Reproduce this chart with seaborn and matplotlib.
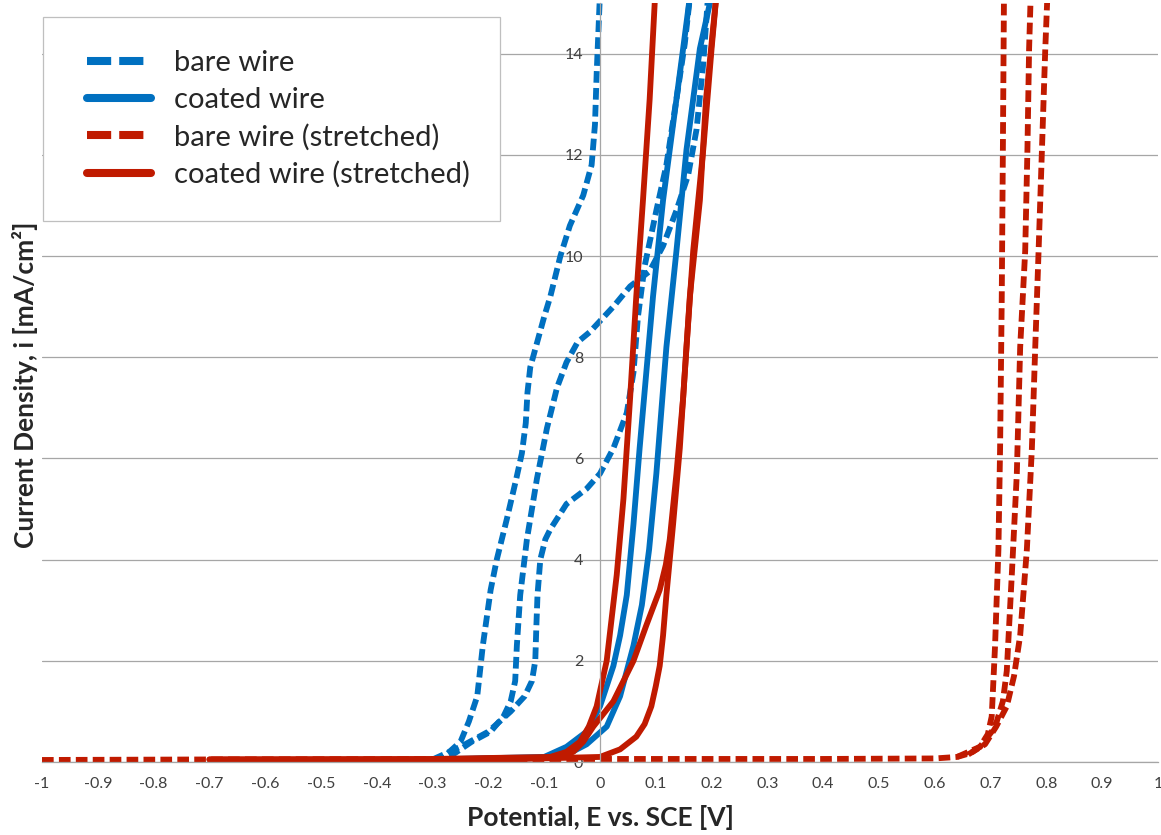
import numpy as np
import pandas as pd
import matplotlib
matplotlib.use("Agg")
import matplotlib.pyplot as plt
from matplotlib.patches import Rectangle
import seaborn as sns

# potential E [V] vs current density i [mA/cm2]
# bare wire (blue dashed), three sweeps
bare_x1 = [-0.30, -0.28, -0.25, -0.235, -0.22, -0.21, -0.196, -0.185, -0.167, -0.15, -0.14, -0.133, -0.13, -0.125, -0.115, -0.1, -0.089, -0.071, -0.054, -0.03, -0.015, -0.009, -0.006, 0.0]
bare_y1 = [0.05, 0.1, 0.4, 0.8, 1.3, 2.3, 3.4, 4.0, 4.8, 5.6, 6.1, 6.7, 7.3, 7.8, 8.2, 8.8, 9.2, 10.0, 10.6, 11.2, 11.8, 12.6, 13.6, 15.2]
bare_x2 = [-0.30, -0.27, -0.23, -0.196, -0.173, -0.16, -0.152, -0.149, -0.143, -0.131, -0.113, -0.095, -0.077, -0.06, -0.04, -0.018, 0.024, 0.054, 0.089, 0.113, 0.137, 0.158, 0.173, 0.185, 0.194]
bare_y2 = [0.05, 0.1, 0.4, 0.6, 0.9, 1.2, 1.6, 2.3, 3.3, 4.4, 5.6, 6.6, 7.4, 7.9, 8.3, 8.5, 9.0, 9.4, 9.7, 10.2, 10.9, 11.6, 12.5, 13.8, 15.2]
bare_x3 = [-0.30, -0.25, -0.2, -0.16, -0.135, -0.122, -0.116, -0.114, -0.112, -0.107, -0.098, -0.089, -0.06, -0.024, 0.0, 0.024, 0.048, 0.06, 0.068, 0.08, 0.101, 0.119, 0.137, 0.152, 0.162]
bare_y3 = [0.05, 0.3, 0.6, 1.0, 1.3, 1.6, 2.0, 2.7, 3.3, 4.0, 4.4, 4.6, 5.1, 5.4, 5.7, 6.2, 6.9, 7.7, 8.8, 9.8, 10.9, 11.8, 13.1, 14.2, 15.2]

# coated wire (blue solid), two sweeps
coat_x1 = [-0.30, -0.1, -0.06, -0.024, 0.0, 0.024, 0.036, 0.048, 0.06, 0.071, 0.083, 0.095, 0.113, 0.131, 0.149, 0.162]
coat_y1 = [0.05, 0.1, 0.3, 0.6, 1.1, 1.9, 2.5, 3.3, 4.7, 6.2, 7.7, 9.2, 11.1, 12.6, 14.1, 15.2]
coat_x2 = [-0.30, -0.1, -0.05, -0.024, 0.012, 0.036, 0.06, 0.075, 0.088, 0.101, 0.119, 0.137, 0.155, 0.179, 0.201]
coat_y2 = [0.05, 0.08, 0.2, 0.35, 0.7, 1.3, 2.3, 3.1, 4.2, 5.7, 8.2, 10.1, 12.1, 14.1, 15.2]

# bare wire stretched (red dashed), three sweeps
bstr_x1 = [-1.0, -0.7, 0.0, 0.4, 0.6, 0.64, 0.665, 0.681, 0.695, 0.702, 0.708, 0.714, 0.717, 0.72, 0.722, 0.724]
bstr_y1 = [0.04, 0.05, 0.06, 0.06, 0.07, 0.1, 0.18, 0.3, 0.55, 0.9, 2.3, 4.2, 6.2, 9.2, 12.1, 15.2]
bstr_x2 = [0.64, 0.681, 0.702, 0.711, 0.722, 0.729, 0.738, 0.747, 0.753, 0.762, 0.766, 0.769, 0.772]
bstr_y2 = [0.1, 0.3, 0.6, 0.8, 1.2, 1.8, 3.7, 5.7, 8.2, 10.1, 12.1, 14.1, 15.2]
bstr_x3 = [0.66, 0.69, 0.71, 0.729, 0.742, 0.753, 0.765, 0.774, 0.78, 0.786, 0.792, 0.798, 0.802]
bstr_y3 = [0.15, 0.35, 0.7, 1.1, 1.7, 2.5, 4.2, 6.2, 8.2, 10.1, 12.1, 14.1, 15.2]

# coated wire stretched (red solid), three sweeps
cstr_x1 = [-0.7, -0.3, -0.089, -0.06, -0.036, -0.02, -0.006, 0.012, 0.03, 0.042, 0.054, 0.065, 0.077, 0.089, 0.099]
cstr_y1 = [0.05, 0.06, 0.1, 0.2, 0.4, 0.7, 1.1, 2.0, 3.7, 5.2, 7.2, 9.2, 11.1, 13.1, 15.2]
cstr_x2 = [-0.3, -0.1, -0.07, -0.048, -0.03, -0.012, 0.024, 0.06, 0.083, 0.107, 0.118, 0.125, 0.137, 0.149, 0.161, 0.179, 0.19, 0.209]
cstr_y2 = [0.05, 0.08, 0.12, 0.2, 0.4, 0.7, 1.2, 2.0, 2.7, 3.4, 3.9, 4.4, 5.7, 7.2, 9.2, 11.1, 13.1, 15.2]
cstr_x3 = [-0.7, -0.18, 0.0, 0.036, 0.065, 0.08, 0.092, 0.1, 0.107, 0.113, 0.119, 0.131, 0.143, 0.155, 0.167, 0.185, 0.2, 0.209]
cstr_y3 = [0.05, 0.05, 0.1, 0.25, 0.5, 0.75, 1.1, 1.5, 1.9, 2.5, 3.3, 4.7, 6.2, 8.2, 10.1, 12.1, 14.1, 15.2]

series_names = ["bare wire", "coated wire", "bare wire (stretched)", "coated wire (stretched)"]
curves = [
    ("bare wire", bare_x1, bare_y1), ("bare wire", bare_x2, bare_y2), ("bare wire", bare_x3, bare_y3),
    ("coated wire", coat_x1, coat_y1), ("coated wire", coat_x2, coat_y2),
    ("bare wire (stretched)", bstr_x1, bstr_y1), ("bare wire (stretched)", bstr_x2, bstr_y2), ("bare wire (stretched)", bstr_x3, bstr_y3),
    ("coated wire (stretched)", cstr_x1, cstr_y1), ("coated wire (stretched)", cstr_x2, cstr_y2), ("coated wire (stretched)", cstr_x3, cstr_y3),
]

rows = []
for k, (name, xs, ys) in enumerate(curves):
    for xv, yv in zip(xs, ys):
        rows.append({"E": xv, "i": yv, "series": name, "curve": k})
df = pd.DataFrame(rows)

blue = "#0070C0"
red = "#C01A00"
palette = {"bare wire": blue, "coated wire": blue, "bare wire (stretched)": red, "coated wire (stretched)": red}
dashes = {"bare wire": (2.0, 0.9), "coated wire": "", "bare wire (stretched)": (2.0, 0.9), "coated wire (stretched)": ""}

sns.set_style("white")
plt.rcParams['font.family'] = ['Lato', 'DejaVu Sans']

fig = plt.figure(figsize=(11.61, 8.35), dpi=100)
ax = fig.add_axes([42/1161, 1-762/835, 1116/1161, 759/835])

sns.lineplot(data=df, x="E", y="i", hue="series", style="series", units="curve",
             estimator=None, sort=False, palette=palette, dashes=dashes,
             hue_order=series_names, style_order=series_names,
             lw=4.2, ax=ax, legend=True)
for ln in ax.get_lines():
    ln.set_solid_joinstyle('round')
    ln.set_dash_joinstyle('round')

ax.set_xlim(-1, 1)
ax.set_ylim(0, 15)
ax.set_xticks(np.arange(-1, 1.01, 0.1))
ax.set_xticklabels(["-1", "-0.9", "-0.8", "-0.7", "-0.6", "-0.5", "-0.4", "-0.3", "-0.2", "-0.1",
                    "0", "0.1", "0.2", "0.3", "0.4", "0.5", "0.6", "0.7", "0.8", "0.9", "1"])
ax.set_xticks(np.arange(-1, 1.001, 0.02), minor=True)
ax.set_yticks(np.arange(0, 15, 2))
ax.set_yticklabels([str(v) for v in range(0, 15, 2)])

ax.spines['left'].set_position(('data', 0))
for s in ['top', 'right']:
    ax.spines[s].set_visible(False)
ax.spines['left'].set_color('#A6A6A6')
ax.spines['bottom'].set_color('#A6A6A6')
ax.spines['left'].set_linewidth(0.9)
ax.spines['bottom'].set_linewidth(0.9)

ax.yaxis.grid(True, color='#A6A6A6', lw=0.9)
ax.set_axisbelow(True)
ax.tick_params(axis='x', which='major', direction='out', length=5, color='#A6A6A6', labelsize=11.5, labelcolor='#404040', pad=6)
ax.tick_params(axis='x', which='minor', direction='out', length=3, color='#A6A6A6')
ax.tick_params(axis='y', which='major', length=0, labelsize=11.5, labelcolor='#404040', pad=12)

ax.set_xlabel("Potential, E vs. SCE [V]", fontsize=19, fontweight='bold', labelpad=10)
ax.set_ylabel("")
fig.text(25/1161, 1-385/835, "Current Density, i [mA/cm²]", rotation=90, fontsize=19,
         fontweight='bold', ha='center', va='center')

# legend box drawn as a plain rectangle, legend itself without frame
ax.add_patch(Rectangle((43/1161, 1-221/835), 457/1161, 204/835, transform=fig.transFigure,
                       facecolor='white', edgecolor='#BFBFBF', lw=0.9, zorder=4.5))
handles, labels = ax.get_legend_handles_labels()
leg = ax.legend(handles, labels, loc='upper left',
                bbox_to_anchor=((87 - 42) / 1116, (762 - 50) / 759),
                fontsize=21, frameon=False,
                handlelength=2.2, handletextpad=0.8, labelspacing=0.37,
                borderpad=0, borderaxespad=0)
for ln in leg.get_lines():
    ln.set_linewidth(5.8)
    if ln.get_linestyle() != '-':
        ln.set_dashes((3.0, 1.0))

fig.savefig("out.png", dpi=100)
